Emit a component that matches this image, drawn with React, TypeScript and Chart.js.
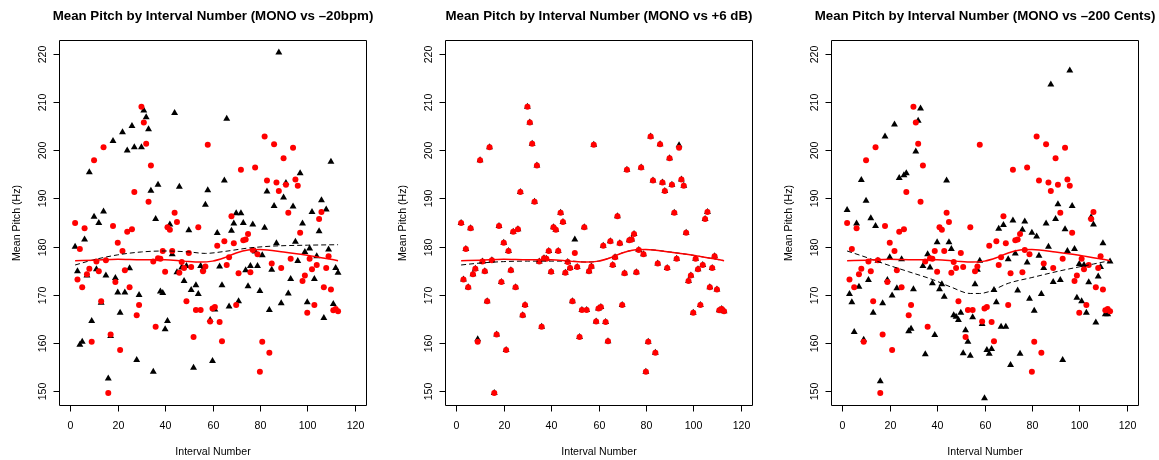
import React, { useEffect, useRef } from 'react';
import { Chart, registerables } from 'chart.js';
Chart.register(...registerables);

// Interval numbers (x categories)
const intervals = [
  2, 3, 4, 5, 6, 7, 8, 9, 10, 11, 12, 13, 14, 15, 16, 17, 18, 19, 20, 21,
  22, 23, 24, 25, 26, 27, 28, 29, 30, 31, 32, 33, 34, 35, 36, 37, 38, 39, 40, 41,
  42, 43, 44, 45, 46, 47, 48, 49, 50, 51, 52, 53, 54, 55, 56, 57, 58, 59, 60, 61,
  62, 63, 64, 65, 66, 67, 68, 69, 70, 71, 72, 73, 74, 75, 76, 77, 78, 79, 80, 81,
  82, 83, 84, 85, 86, 87, 88, 89, 90, 91, 92, 93, 94, 95, 96, 97, 98, 99, 100, 101,
  102, 103, 104, 105, 106, 107, 108, 109, 110, 111, 112, 113,
];

// MONO mean pitch (red dots, same in every panel)
const monoPitch = [
  184.9, 173.2, 179.5, 171.6, 183.8, 174.3, 175.4, 160.3, 197.9, 176.9,
  174.9, 168.7, 200.6, 177.2, 149.7, 161.8, 184.3, 172.7, 180.8, 158.6,
  179.1, 175.1, 183.1, 171.6, 183.6, 191.3, 165.8, 167.9, 209.0, 205.7,
  201.3, 189.3, 196.8, 176.9, 163.4, 177.6, 177.5, 179.1, 174.8, 184.0,
  183.5, 179.1, 187.0, 185.1, 174.6, 176.8, 175.6, 168.7, 178.7, 175.8,
  161.3, 166.9, 184.0, 166.9, 174.9, 175.9, 201.1, 164.5, 167.2, 167.5,
  180.2, 164.4, 160.4, 181.1, 176.2, 177.8, 186.3, 180.7, 167.9, 174.5,
  195.9, 181.3, 181.5, 182.6, 174.7, 179.3, 196.4, 178.4, 154.1, 160.3,
  202.8, 193.7, 158.0, 176.5, 201.2, 193.3, 191.5, 175.6, 198.3, 192.8,
  187.0, 177.5, 200.5, 193.9, 192.6, 182.9, 172.9, 174.0, 166.3, 177.5,
  175.3, 167.9, 176.2, 185.7, 187.2, 171.6, 175.6, 178.0, 171.1, 166.8,
  167.1, 166.6,
];

// -20bpm mean pitch (black triangles, panel 1)
const bpmPitch = [
  180.0, 174.9, 159.7, 160.3, 181.5, 174.0, 195.4, 164.6, 186.2, 175.3,
  184.9, 168.4, 187.3, 174.0, 152.7, 161.5, 201.9, 173.5, 170.5, 166.3,
  203.7, 170.5, 199.9, 175.5, 205.0, 200.6, 156.5, 170.0, 200.6, 208.2,
  206.8, 204.3, 191.6, 154.1, 185.7, 192.8, 170.7, 170.4, 162.9, 164.6,
  184.6, 178.4, 207.7, 174.7, 192.4, 175.7, 172.9, 176.0, 183.4, 171.0,
  154.9, 172.0, 170.2, 176.0, 175.3, 188.7, 191.7, 164.8, 156.3, 167.0,
  182.8, 175.9, 172.0, 193.7, 206.5, 167.6, 183.3, 184.8, 186.9, 168.7,
  186.9, 184.9, 175.1, 171.8, 176.0, 184.6, 179.0, 176.0, 170.8, 178.2,
  183.9, 191.4, 166.9, 175.2, 188.4, 180.7, 220.2, 168.3, 190.2, 193.2,
  170.3, 173.3, 188.3, 181.0, 177.0, 195.2, 184.8, 178.9, 168.5, 179.6,
  187.2, 173.3, 178.0, 183.2, 189.6, 165.2, 187.7, 179.4, 197.6, 168.1,
  175.6, 174.6,
];

// +6 dB mean pitch (black triangles, panel 2)
const dbPitch = [
  184.9, 173.2, 179.5, 171.6, 183.8, 174.3, 175.4, 160.8, 197.9, 176.9,
  174.9, 168.7, 200.6, 177.2, 149.7, 161.8, 184.3, 172.7, 180.8, 158.6,
  179.1, 175.1, 183.1, 171.6, 183.6, 191.3, 165.8, 167.9, 209.0, 205.7,
  201.3, 189.3, 196.8, 176.9, 163.4, 177.6, 177.5, 179.1, 174.8, 184.0,
  183.5, 179.1, 187.0, 185.1, 174.6, 176.8, 175.6, 168.7, 181.5, 175.8,
  161.3, 166.9, 184.0, 166.9, 174.9, 175.9, 201.1, 164.5, 167.2, 167.5,
  180.2, 164.4, 160.4, 181.1, 176.2, 177.8, 186.3, 180.7, 167.9, 174.5,
  195.9, 181.3, 181.5, 182.6, 174.7, 179.3, 196.4, 178.4, 154.1, 160.3,
  202.8, 193.7, 158.0, 176.5, 201.2, 193.3, 191.5, 175.6, 198.3, 192.8,
  187.0, 177.5, 201.0, 193.9, 192.6, 182.9, 172.9, 174.0, 166.3, 177.5,
  175.3, 167.9, 176.2, 185.7, 187.2, 171.6, 175.6, 178.0, 171.1, 166.8,
  167.1, 166.6,
];

// -200 Cents mean pitch (black triangles, panel 3)
const centsPitch = [
  187.6, 170.2, 168.5, 162.3, 184.8, 171.7, 193.8, 160.7, 189.5, 173.1,
  185.9, 166.3, 184.3, 177.1, 152.1, 168.3, 202.8, 173.1, 177.8, 169.9,
  205.3, 171.4, 194.2, 177.4, 194.8, 195.2, 162.5, 163.0, 171.2, 199.7,
  206.1, 208.6, 176.0, 157.7, 178.4, 175.7, 172.4, 161.7, 180.9, 171.2,
  172.2, 169.6, 193.7, 180.9, 179.5, 165.8, 165.5, 164.8, 166.3, 157.9,
  162.7, 160.3, 157.4, 165.4, 172.2, 175.2, 177.1, 164.0, 148.6, 158.6,
  157.8, 158.8, 171.0, 168.5, 183.7, 163.4, 184.5, 163.4, 177.4, 155.5,
  185.4, 178.6, 170.9, 157.8, 183.5, 185.2, 176.7, 169.2, 182.9, 166.7,
  182.1, 178.1, 170.2, 175.6, 184.8, 180.0, 213.6, 172.7, 185.7, 188.8,
  173.1, 156.5, 183.6, 179.1, 216.5, 188.4, 179.5, 169.4, 176.4, 168.7,
  176.2, 166.3, 172.6, 186.1, 184.6, 164.3, 173.8, 175.8, 180.7, 166.0,
  166.0, 176.9,
];

// Smoothed (lowess) curves
const monoSmoothX = [2, 10, 20, 30, 40, 48, 55, 60, 65, 70, 75, 80, 90, 100, 113];
const monoSmoothY = [177.1, 177.2, 177.4, 177.3, 177.3, 177.0, 176.8, 177.0, 177.7, 178.7, 179.3, 179.4, 178.9, 178.2, 177.1];

const bpmSmoothX = [2, 10, 20, 30, 40, 50, 57, 65, 75, 85, 100, 113];
const bpmSmoothY = [176.2, 177.3, 178.3, 178.9, 179.1, 178.9, 178.6, 179.0, 179.7, 180.1, 180.3, 180.4];

const dbSmoothX = [2, 10, 20, 30, 40, 48, 55, 60, 65, 70, 75, 80, 90, 100, 113];
const dbSmoothY = [176.2, 176.6, 176.9, 177.0, 177.0, 177.0, 176.8, 177.0, 177.7, 178.7, 179.3, 179.4, 178.9, 178.2, 177.1];

const centsSmoothX = [2, 10, 18, 28, 38, 46, 54, 58, 62, 70, 80, 92, 106, 113];
const centsSmoothY = [179.1, 177.8, 176.4, 174.8, 173.2, 171.6, 170.3, 170.3, 170.7, 172.4, 173.6, 175.0, 176.4, 177.1];

const xTicks = [0, 20, 40, 60, 80, 100, 120];
const yTicks = [150, 160, 170, 180, 190, 200, 210, 220];

const titles = [
  'Mean Pitch by Interval Number (MONO vs \u201320bpm)',
  'Mean Pitch by Interval Number (MONO vs +6 dB)',
  'Mean Pitch by Interval Number (MONO vs \u2013200 Cents)',
];
const xTitle = 'Interval Number';
const yTitle = 'Mean Pitch (Hz)';

const FONT = '"Liberation Sans", Arial, Helvetica, sans-serif';

function makeAxesPlugin(title: string) {
  return {
    id: 'rAxes',
    afterDraw(chart: any) {
      const { ctx, chartArea: a, scales } = chart;
      const xs = scales.x;
      const ys = scales.y;
      ctx.save();
      ctx.strokeStyle = '#000';
      ctx.fillStyle = '#000';
      ctx.lineWidth = 1;
      const L = Math.round(a.left) + 0.5;
      const T = Math.round(a.top) + 0.5;
      const R = Math.round(a.right) + 0.5;
      const B = Math.round(a.bottom) + 0.5;
      ctx.beginPath();
      ctx.rect(L, T, R - L, B - T);
      ctx.stroke();

      // x ticks
      ctx.font = `10.6px ${FONT}`;
      ctx.textAlign = 'center';
      ctx.textBaseline = 'alphabetic';
      for (const v of xTicks) {
        const px = Math.round(xs.getPixelForValue(v)) + 0.5;
        ctx.beginPath();
        ctx.moveTo(px, B);
        ctx.lineTo(px, B + 6);
        ctx.stroke();
        ctx.fillText(String(v), px, B + 23);
      }
      // y ticks
      for (const v of yTicks) {
        const py = Math.round(ys.getPixelForValue(v)) + 0.5;
        ctx.beginPath();
        ctx.moveTo(L, py);
        ctx.lineTo(L - 6, py);
        ctx.stroke();
        ctx.save();
        ctx.translate(L - 14, py);
        ctx.rotate(-Math.PI / 2);
        ctx.fillText(String(v), 0, 0);
        ctx.restore();
      }
      // axis titles
      ctx.fillText(xTitle, (L + R) / 2, B + 49);
      ctx.save();
      ctx.translate(L - 40, (T + B) / 2);
      ctx.rotate(-Math.PI / 2);
      ctx.fillText(yTitle, 0, 0);
      ctx.restore();

      // main title
      ctx.font = `bold 13.3px ${FONT}`;
      ctx.fillText(title, (L + R) / 2, 19.5);
      ctx.restore();
    },
  };
}

function pts(xs: number[], ys: number[]) {
  return xs.map((x, i) => ({ x, y: ys[i] }));
}

type PanelProps = {
  title: string;
  black: number[];
  smoothX: number[];
  smoothY: number[];
  width: number;
};

function Panel({ title, black, smoothX, smoothY, width }: PanelProps) {
  const ref = useRef<HTMLCanvasElement>(null);
  useEffect(() => {
    if (!ref.current) return;
    const chart = new Chart(ref.current, {
      type: 'scatter',
      data: {
        datasets: [
          {
            type: 'line',
            data: pts(monoSmoothX, monoSmoothY),
            borderColor: '#ff0000',
            borderWidth: 1.5,
            pointRadius: 0,
            fill: false,
            cubicInterpolationMode: 'monotone',
          } as any,
          {
            type: 'line',
            data: pts(smoothX, smoothY),
            borderColor: '#000000',
            borderWidth: 1,
            borderDash: [5, 3],
            pointRadius: 0,
            fill: false,
            cubicInterpolationMode: 'monotone',
          } as any,
          {
            data: pts(intervals, monoPitch),
            pointStyle: 'circle',
            pointRadius: 3,
            pointBackgroundColor: '#ff0000',
            pointBorderWidth: 0,
            pointBorderColor: '#ff0000',
          } as any,
          {
            data: pts(intervals, black),
            pointStyle: 'triangle',
            pointRadius: 4,
            pointBackgroundColor: '#000000',
            pointBorderWidth: 0,
            pointBorderColor: '#000000',
          } as any,
        ],
      },
      options: {
        animation: false,
        responsive: false,
        devicePixelRatio: 1,
        events: [],
        layout: { padding: { left: 59, right: width - 366, top: 40, bottom: 55 } },
        scales: {
          x: { type: 'linear', min: -4.8, max: 124.8, display: false },
          y: { type: 'linear', min: 147.2, max: 222.8, display: false },
        },
        plugins: {
          legend: { display: false },
          tooltip: { enabled: false },
        },
      } as any,
      plugins: [makeAxesPlugin(title)],
    });
    return () => chart.destroy();
  }, []);
  return <canvas ref={ref} width={width} height={460} style={{ display: 'block', width, height: 460 }} />;
}

export default function App() {
  return (
    <div
      style={{
        position: 'absolute',
        left: 0,
        top: 0,
        width: 1159,
        height: 460,
        display: 'flex',
        background: '#fff',
      }}
    >
      <Panel title={titles[0]} black={bpmPitch} smoothX={bpmSmoothX} smoothY={bpmSmoothY} width={386} />
      <Panel title={titles[1]} black={dbPitch} smoothX={dbSmoothX} smoothY={dbSmoothY} width={386} />
      <Panel title={titles[2]} black={centsPitch} smoothX={centsSmoothX} smoothY={centsSmoothY} width={387} />
    </div>
  );
}
